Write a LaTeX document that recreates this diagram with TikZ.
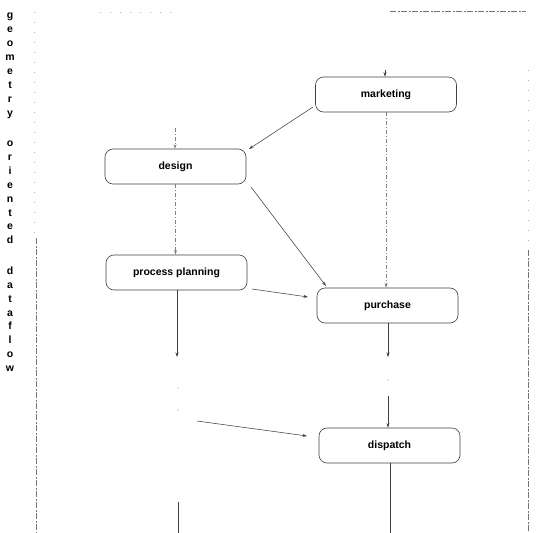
\documentclass[tikz,border=0pt]{standalone}
\usepackage{fontspec}
\setmainfont{Liberation Sans}
\usetikzlibrary{arrows.meta,calc}
\begin{document}
\begin{tikzpicture}[x=1pt,y=-1pt,
  box/.style={draw=black!75, line width=0.6pt, rounded corners=8pt,
    minimum width=141pt, minimum height=35pt, inner sep=0pt,
    font=\fontsize{10.5}{12}\selectfont\bfseries},
  flow/.style={draw=black!75, line width=0.55pt, -{Stealth[length=4.5pt,width=3pt]}},
  weak/.style={draw=black!50, line width=0.5pt, dash pattern=on 4pt off 2pt on 1pt off 2pt},
  weakflow/.style={weak, -{Stealth[length=4.5pt,width=3pt]}},
  plain/.style={draw=black!75, line width=0.55pt},
  frame/.style={draw=black!55, line width=0.6pt, dash pattern=on 6pt off 1.5pt on 2pt off 1.5pt},
  framefaint/.style={draw=black!30, line width=0.5pt, dash pattern=on 1pt off 9pt},
  letter/.style={anchor=base, inner sep=0pt, font=\fontsize{10.5}{12}\selectfont\bfseries},
  dotmark/.style={fill=black!40, inner sep=0pt, minimum size=1.4pt, circle}
]
\useasboundingbox[fill=white] (0,0) rectangle (544,533);

% vertical title
\def\placeword#1#2{%
  \foreach \ch [count=\i from 0] in {#2}{
    \pgfmathsetmacro{\yy}{15+13.9*(8*#1+\i)+16.6*#1+3.7}
    \node[letter] (t#1-\i) at (10,\yy) {\ch};
  }}
\placeword{0}{g,e,o,m,e,t,r,y}
\placeword{1}{o,r,i,e,n,t,e,d}
\placeword{2}{d,a,t,a,f,l,o,w}

% frame remnants
\draw[framefaint] (100,12) -- (176,12);
\draw[frame] (390,11) -- (526,11);
\draw[framefaint] (34,12) -- (34,236);
\draw[frame] (36,238) -- (36,533);
\draw[framefaint] (528,70) -- (528,248);
\draw[frame] (528,250) -- (528,533);

% nodes
\node[box] (marketing) at (386,94.5) {marketing};
\node[box] (design) at (175.5,166.5) {design};
\node[box] (pp) at (176.5,272.5) {process planning};
\node[box] (purchase) at (387.5,305.5) {purchase};
\node[box] (dispatch) at (389.5,445.5) {dispatch};

% free ends
\coordinate (mtop) at (385,70);
\coordinate (dtop) at (175,128);
\coordinate (mfrom) at (313,107);
\coordinate (dtip) at (249,149);
\coordinate (dfrom) at (251,187);
\coordinate (ptip) at (326,286);
\coordinate (ppfrom) at (252,289);
\coordinate (pptip) at (308,297);
\coordinate (ppend) at (177,357);
\coordinate (puend) at (388,357);
\coordinate (dsfrom) at (388,396);
\coordinate (lfrom) at (197,421);
\coordinate (ltip) at (307,436);
\coordinate (dsend) at (390,533);
\coordinate (lbtop) at (178,502);
\coordinate (lbend) at (178,533);

% connectors
\draw[flow] (mtop) -- (marketing.north -| mtop);
\draw[weakflow] (dtop) -- (design.north -| dtop);
\draw[flow] (mfrom) -- (dtip);
\draw[weakflow] (marketing.south) -- (purchase.north -| marketing.south);
\draw[weakflow] (design.south) -- (pp.north -| design.south);
\draw[flow] (dfrom) -- (ptip);
\draw[flow] (ppfrom) -- (pptip);
\draw[flow] (pp.south -| ppend) -- (ppend);
\draw[flow] (purchase.south -| puend) -- (puend);
\draw[flow] (dsfrom) -- (dispatch.north -| dsfrom);
\draw[flow] (lfrom) -- (ltip);
\draw[plain] (dispatch.south -| dsend) -- (dsend);
\draw[plain] (lbtop) -- (lbend);

% faint dots
\node[dotmark] (d1) at (178,388) {};
\node[dotmark] (d2) at (178,410) {};
\node[dotmark] (d3) at (388,380) {};
\end{tikzpicture}
\end{document}
